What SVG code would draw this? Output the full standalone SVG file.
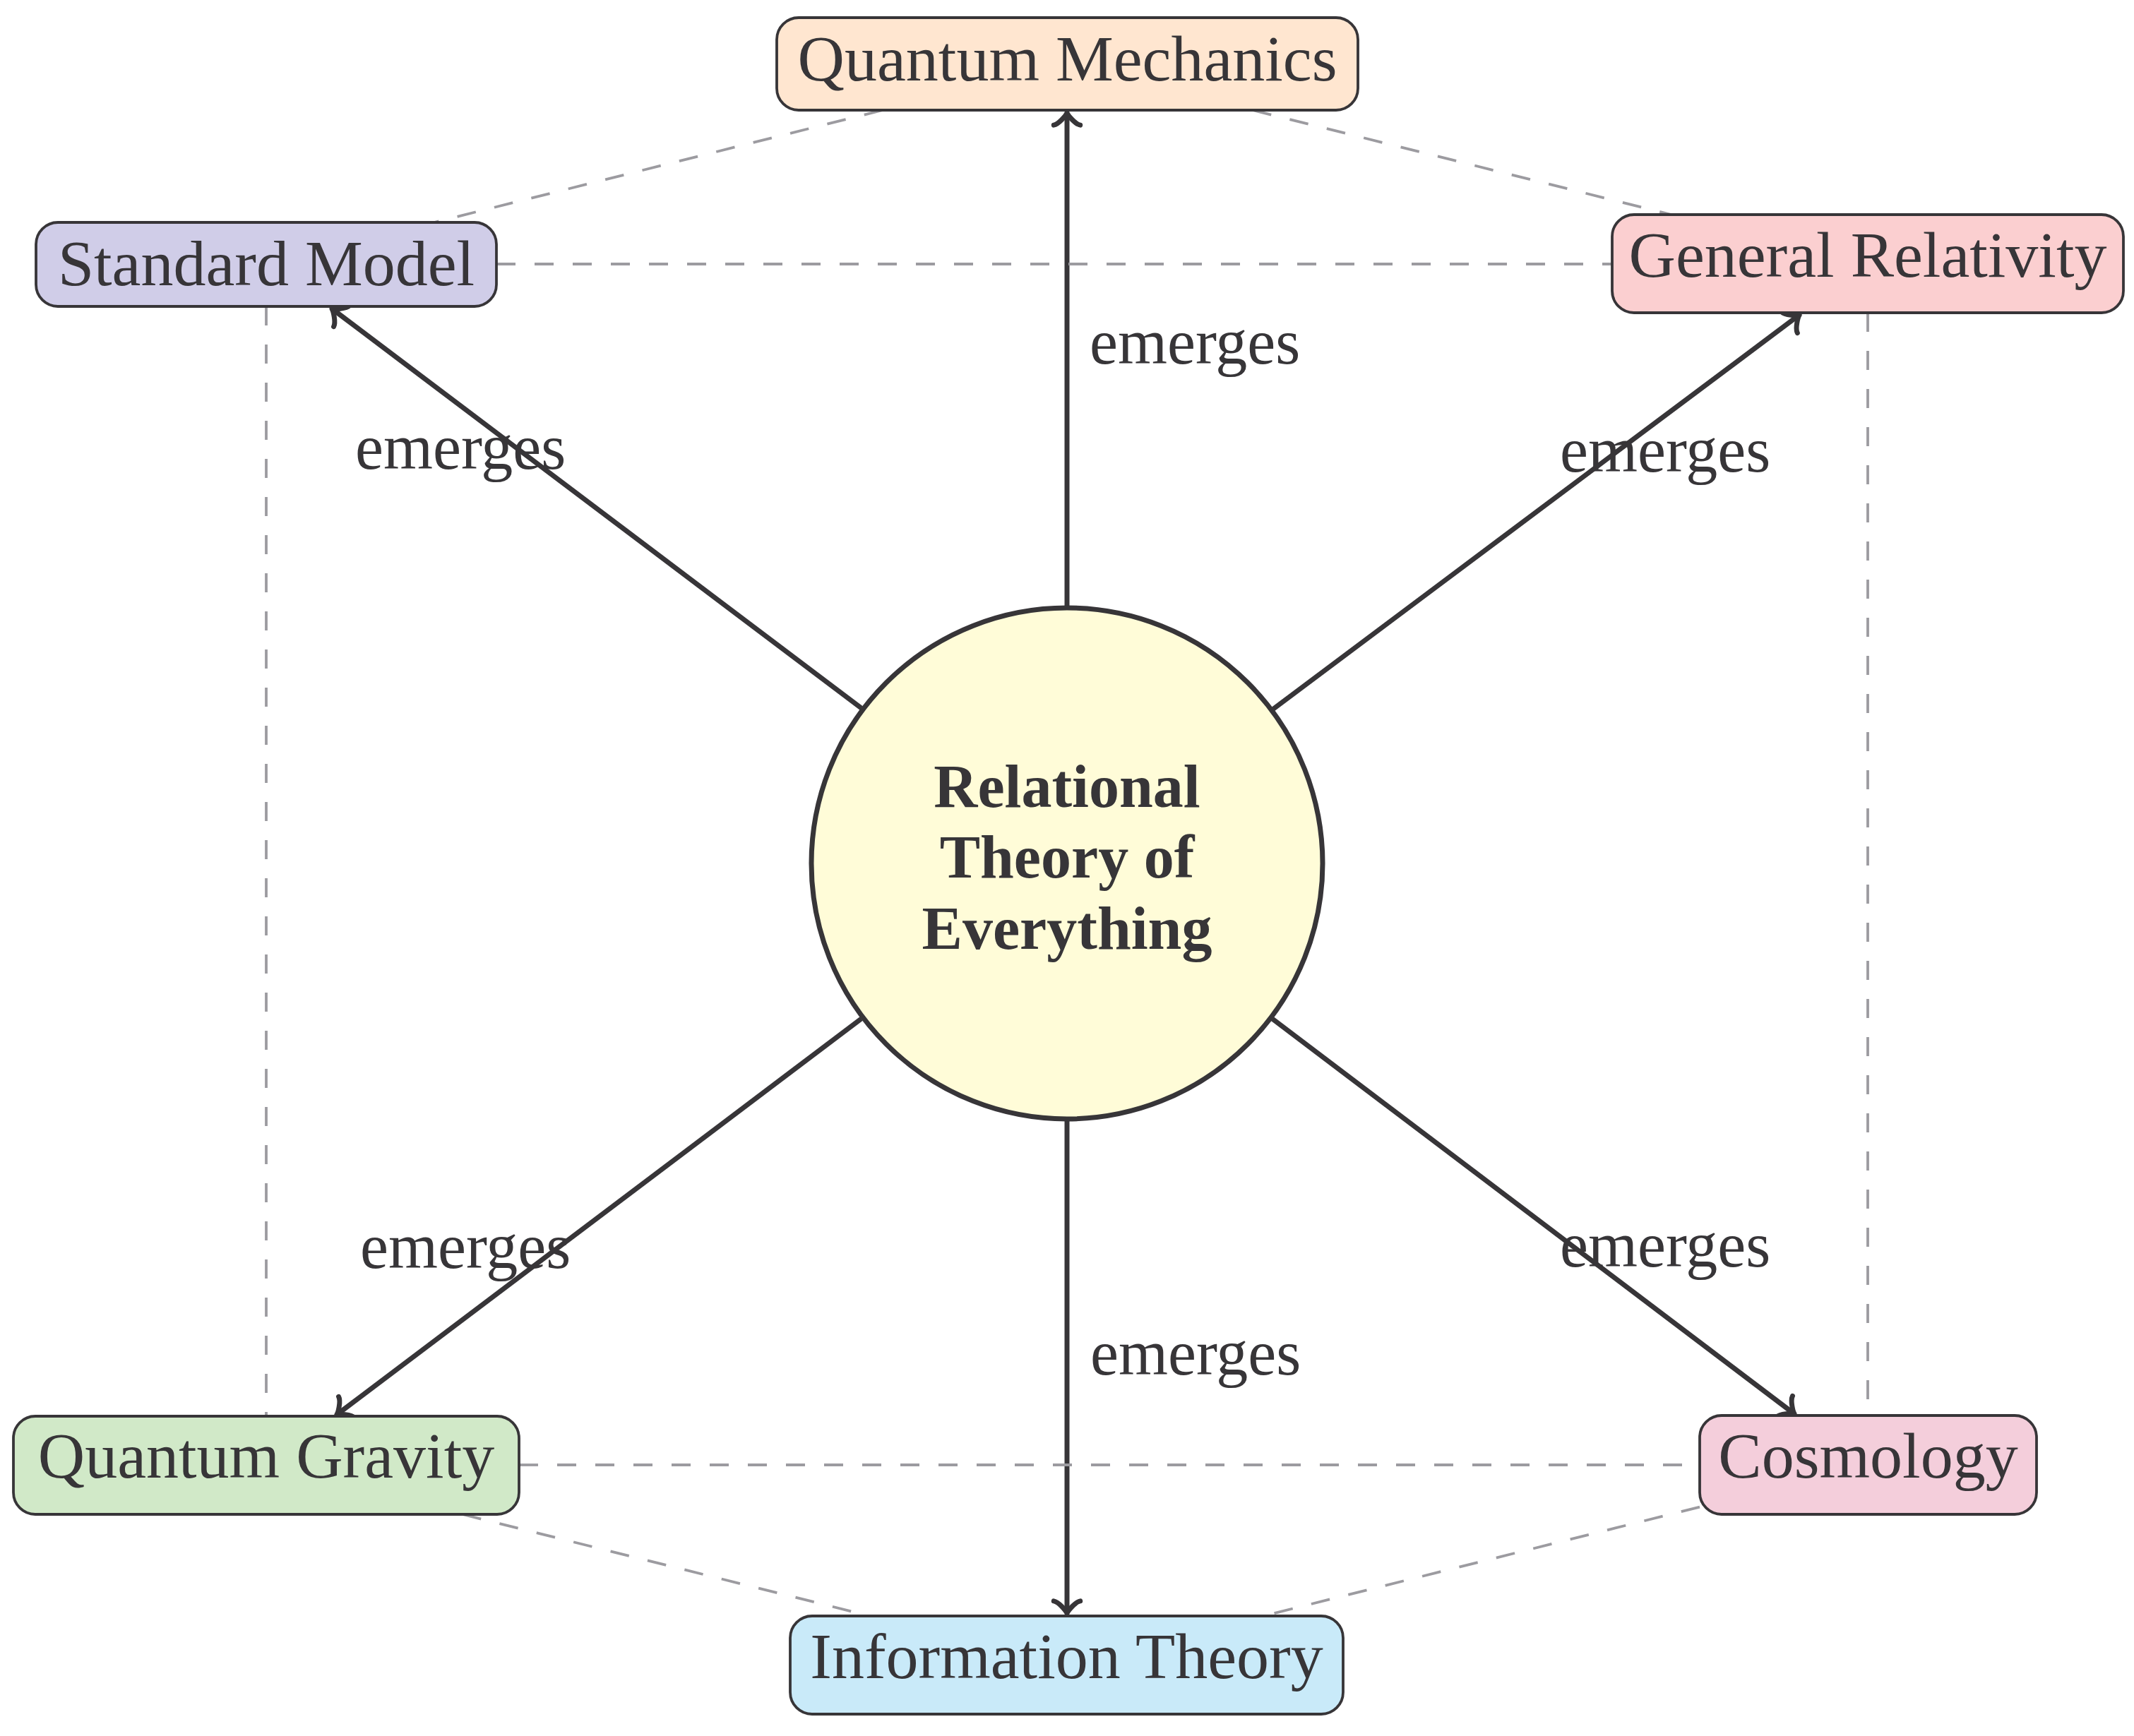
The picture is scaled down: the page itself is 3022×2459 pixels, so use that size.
<svg xmlns="http://www.w3.org/2000/svg" width="3022" height="2459" viewBox="0 0 3022 2459">
  <defs>
    <style>
      .box { stroke: #373538; stroke-width: 3.8; }
      .lbl { font-family: "Liberation Serif", "Times New Roman", serif; font-size: 92px; fill: #373538; text-anchor: middle; }
      .core { font-family: "Liberation Serif", "Times New Roman", serif; font-size: 86px; font-weight: bold; fill: #373538; text-anchor: middle; }
      .edge { font-family: "Liberation Serif", "Times New Roman", serif; font-size: 90px; fill: #373538; text-anchor: start; }
      .arrow { stroke: #373538; stroke-width: 7; fill: none; marker-end: url(#to); }
      .dash { stroke: #9c9ba0; stroke-width: 3.8; fill: none; stroke-dasharray: 27 27; }
    </style>
    <marker id="to" markerUnits="userSpaceOnUse" orient="auto" markerWidth="60" markerHeight="60" refX="0" refY="0" viewBox="-30 -30 60 60" overflow="visible">
      <path d="M -15.1,18.7 C -14,11.7 -1.1,1.17 2.4,0 C -1.1,-1.17 -14,-11.7 -15.1,-18.7" fill="none" stroke="#373538" stroke-width="7" stroke-linecap="round" stroke-linejoin="round"/>
    </marker>
  </defs>
  <rect x="0" y="0" width="3022" height="2459" fill="#ffffff"/>

  <g id="connectors">
    <line class="arrow" x1="1511" y1="858" x2="1511" y2="162"/>
    <line class="arrow" x1="1511" y1="1588" x2="1511" y2="2283"/>
    <line class="arrow" x1="1219.7" y1="1003" x2="471.8" y2="438.6"/>
    <line class="arrow" x1="1803.1" y1="1004.2" x2="2546.2" y2="447.6"/>
    <line class="arrow" x1="1219.7" y1="1443" x2="478.8" y2="2002.4"/>
    <line class="arrow" x1="1802" y1="1443.3" x2="2539.2" y2="2001.4"/>

    <line class="dash" x1="1250" y1="156" x2="615" y2="315"/>
    <line class="dash" x1="1774" y1="156" x2="2366.6" y2="304"/>
    <line class="dash" x1="703" y1="374" x2="2283" y2="374"/>
    <line class="dash" x1="377" y1="434" x2="377" y2="2006"/>
    <line class="dash" x1="2645" y1="443" x2="2645" y2="2005"/>
    <line class="dash" x1="735" y1="2075" x2="2407" y2="2075"/>
    <line class="dash" x1="655" y1="2145" x2="1232" y2="2289"/>
    <line class="dash" x1="2407" y1="2134.6" x2="1788.7" y2="2289"/>

    <text class="edge" x="1543" y="515">emerges</text>
    <text class="edge" x="503" y="664">emerges</text>
    <text class="edge" x="2209" y="668">emerges</text>
    <text class="edge" x="510" y="1796">emerges</text>
    <text class="edge" x="2209" y="1794">emerges</text>
    <text class="edge" x="1544" y="1947">emerges</text>
  </g>

  <g id="node-core">
    <circle cx="1511" cy="1223" r="362" fill="#fffcd8" stroke="#373538" stroke-width="7"/>
    <text class="core" x="1511" y="1143">Relational</text>
    <text class="core" x="1511" y="1243">Theory of</text>
    <text class="core" x="1511" y="1344">Everything</text>
  </g>

  <g id="node-quantum-mechanics">
    <rect class="box" x="1100" y="25" width="823" height="131" rx="31" fill="#ffe6d0"/>
    <text class="lbl" x="1511.5" y="114">Quantum Mechanics</text>
  </g>

  <g id="node-standard-model">
    <rect class="box" x="51" y="315" width="652" height="119" rx="31" fill="#d0cde8"/>
    <text class="lbl" x="377" y="404">Standard Model</text>
  </g>

  <g id="node-general-relativity">
    <rect class="box" x="2283" y="304" width="724" height="139" rx="31" fill="#fbcfd0"/>
    <text class="lbl" x="2645" y="392">General Relativity</text>
  </g>

  <g id="node-quantum-gravity">
    <rect class="box" x="19" y="2006" width="716" height="139" rx="31" fill="#d1e9c8"/>
    <text class="lbl" x="377" y="2093">Quantum Gravity</text>
  </g>

  <g id="node-cosmology">
    <rect class="box" x="2407" y="2005" width="477" height="140" rx="31" fill="#f4cedb"/>
    <text class="lbl" x="2645.5" y="2093">Cosmology</text>
  </g>

  <g id="node-information-theory">
    <rect class="box" x="1119" y="2289" width="783" height="139" rx="31" fill="#c9eaf9"/>
    <text class="lbl" x="1510.5" y="2377">Information Theory</text>
  </g>
</svg>
